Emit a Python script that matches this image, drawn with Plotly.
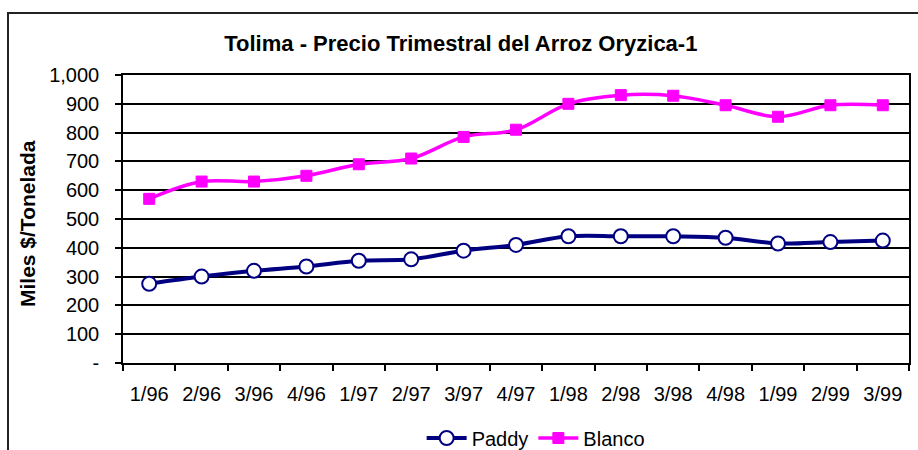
import plotly.graph_objects as go

categories = ["1/96", "2/96", "3/96", "4/96", "1/97", "2/97", "3/97", "4/97",
              "1/98", "2/98", "3/98", "4/98", "1/99", "2/99", "3/99"]
paddy = [275, 300, 320, 335, 355, 360, 390, 410, 440, 440, 440, 435, 415, 420, 425]
blanco = [570, 630, 630, 650, 690, 710, 785, 810, 900, 930, 928, 895, 855, 895, 895]
y_tickvals = [0, 100, 200, 300, 400, 500, 600, 700, 800, 900, 1000]
y_ticktext = ["-", "100", "200", "300", "400", "500", "600", "700", "800", "900", "1,000"]

FONT = "Liberation Sans, Arial, sans-serif"

fig = go.Figure()
fig.add_trace(go.Scatter(
    x=categories, y=paddy, name="Paddy", mode="lines+markers",
    line=dict(color="#000080", width=4, shape="spline", smoothing=1.0),
    marker=dict(symbol="circle", size=14, color="white",
                line=dict(color="#000080", width=2)),
))
fig.add_trace(go.Scatter(
    x=categories, y=blanco, name="Blanco", mode="lines+markers",
    line=dict(color="#FF00FF", width=3.5, shape="spline", smoothing=1.0),
    marker=dict(symbol="square", size=11, color="#FF00FF",
                line=dict(color="#FF00FF", width=1)),
))

fig.update_layout(
    width=918, height=450,
    margin=dict(l=123, r=9, t=75, b=87, autoexpand=False),
    paper_bgcolor="white", plot_bgcolor="white",
    font=dict(family=FONT, size=20, color="black"),
    title=dict(text="<b>Tolima - Precio Trimestral del Arroz Oryzica-1</b>",
               x=0.502, xref="container", y=1 - 43 / 450, yref="container",
               xanchor="center", yanchor="middle",
               font=dict(family=FONT, size=22, color="black")),
    showlegend=True,
    legend=dict(orientation="h", x=0.525, xanchor="center",
                y=1 - 438 / 450, yref="container", yanchor="middle",
                font=dict(family=FONT, size=20, color="black"),
                bgcolor="rgba(0,0,0,0)", itemwidth=40, tracegroupgap=0),
)

fig.update_xaxes(
    type="category", tickson="boundaries", ticks="outside", ticklen=6,
    tickwidth=1.5, tickcolor="black",
    showline=True, linecolor="black", linewidth=2, mirror=True,
    showgrid=False, ticklabelstandoff=12,
    tickfont=dict(family=FONT, size=20, color="black"),
    range=[-0.5, 14.5], fixedrange=True, automargin=False,
)
fig.update_yaxes(
    range=[0, 1000], tickvals=y_tickvals, ticktext=y_ticktext,
    ticks="outside", ticklen=6, tickwidth=1.5, tickcolor="black",
    showline=True, linecolor="black", linewidth=1.5, mirror=True,
    showgrid=True, gridcolor="black", gridwidth=1.5,
    tickfont=dict(family=FONT, size=20, color="black"),
    zeroline=False, ticklabelstandoff=12, automargin=False,
)

fig.add_annotation(
    text="<b>Miles $/Tonelada</b>", textangle=-90,
    xref="paper", yref="paper", x=(27 - 123) / 786, y=(363 - 224) / 288,
    xanchor="center", yanchor="middle", showarrow=False,
    font=dict(family=FONT, size=21, color="black"),
)

# outer chart frame
fig.add_shape(
    type="rect", xref="paper", yref="paper",
    x0=(8 - 123) / 786, x1=1.2, y0=-0.6, y1=1 + (75 - 13) / 288,
    line=dict(color="#222222", width=2), fillcolor="rgba(0,0,0,0)", layer="below",
)

fig.write_html("out.html", config={"displayModeBar": False},
               post_script="document.body.style.margin='0';")
